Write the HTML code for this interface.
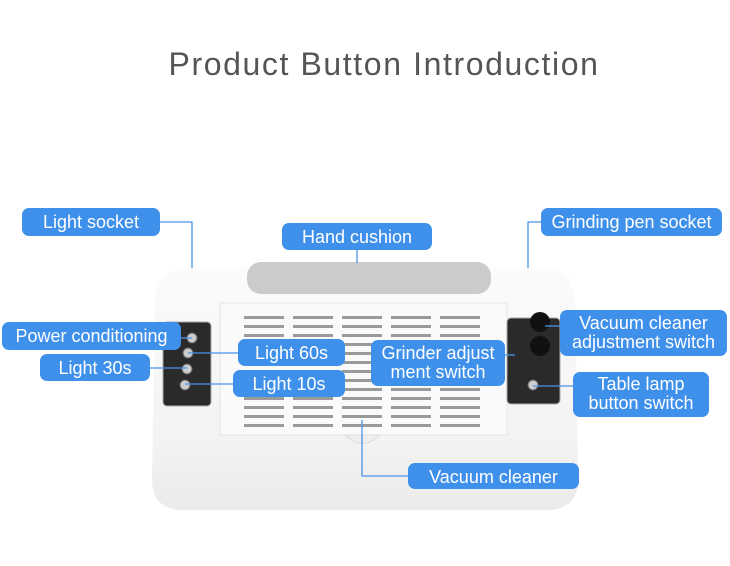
<!DOCTYPE html>
<html><head><style>
html,body{margin:0;padding:0;background:#fff;}
body{width:730px;height:566px;position:relative;overflow:hidden;font-family:"Liberation Sans",sans-serif;}
.t{position:absolute;left:0;width:768px;top:46px;text-align:center;font-size:32px;color:#555;letter-spacing:1.6px;}
.l{position:absolute;background:#3f90ea;color:#fff;border-radius:7px;font-size:18px;text-align:center;line-height:20px;padding-top:4px;box-sizing:border-box;white-space:nowrap;}
</style></head><body>
<div class="t">Product Button Introduction</div>
<svg width="730" height="566" style="position:absolute;left:0;top:0">
<defs>
<linearGradient id="b" x1="0" y1="0" x2="0" y2="1"><stop offset="0" stop-color="#fbfbfb"/><stop offset="0.7" stop-color="#f3f3f3"/><stop offset="1" stop-color="#ebebeb"/></linearGradient>
</defs>
<path d="M185 268 L545 268 Q572 270 575 300 L578 480 Q578 508 550 510 L180 510 Q152 508 152 480 L155 300 Q158 270 185 268Z" fill="url(#b)"/>
<rect x="247" y="262" width="244" height="32" rx="14" fill="#cbcbcb"/>
<rect x="220" y="303" width="287" height="132" fill="#fafafa" stroke="#e4e4e4"/>
<path d="M345 435 Q362 452 380 435Z" fill="#eee" stroke="#ddd"/>
<g fill="#9a9a9a">
<g id="r">
<rect x="244" y="316" width="40" height="3"/><rect x="293" y="316" width="40" height="3"/><rect x="342" y="316" width="40" height="3"/><rect x="391" y="316" width="40" height="3"/><rect x="440" y="316" width="40" height="3"/>
</g>
<use href="#r" y="9"/><use href="#r" y="18"/><use href="#r" y="27"/><use href="#r" y="36"/><use href="#r" y="45"/><use href="#r" y="54"/><use href="#r" y="63"/><use href="#r" y="72"/><use href="#r" y="81"/><use href="#r" y="90"/><use href="#r" y="99"/><use href="#r" y="108"/>
</g>
<rect x="163" y="322" width="48" height="84" rx="4" fill="#2a2a2a" stroke="#aaa"/>
<g fill="#ccc" stroke="#666"><circle cx="192" cy="338" r="5"/><circle cx="188" cy="353" r="5"/><circle cx="187" cy="369" r="5"/><circle cx="185" cy="385" r="5"/></g>
<rect x="507" y="318" width="53" height="86" rx="4" fill="#2a2a2a" stroke="#aaa"/>
<circle cx="540" cy="322" r="10" fill="#111"/><circle cx="540" cy="346" r="10" fill="#111"/>
<circle cx="533" cy="385" r="5" fill="#ccc" stroke="#666"/>
<g stroke="#4a94ea" stroke-width="1.3" fill="none">
<path d="M160 222 H192 V268"/><path d="M357 250 V263"/><path d="M541 222 H528 V268"/>
<path d="M181 338 H192"/><path d="M150 368 H187"/><path d="M238 353 H188"/><path d="M233 384 H185"/>
<path d="M505 355 H515"/><path d="M560 326 H545"/><path d="M573 386 H533"/>
<path d="M362 420 V476 H408"/>
</g>
</svg>
<div class="l" style="left:22px;top:208px;width:138px;height:28px">Light socket</div>
<div class="l" style="left:282px;top:223px;width:150px;height:27px">Hand cushion</div>
<div class="l" style="left:541px;top:208px;width:181px;height:28px">Grinding pen socket</div>
<div class="l" style="left:2px;top:322px;width:179px;height:28px">Power conditioning</div>
<div class="l" style="left:40px;top:354px;width:110px;height:27px">Light 30s</div>
<div class="l" style="left:238px;top:339px;width:107px;height:27px">Light 60s</div>
<div class="l" style="left:233px;top:370px;width:112px;height:27px">Light 10s</div>
<div class="l" style="left:371px;top:340px;width:134px;height:46px;line-height:19px;padding-top:4px">Grinder adjust<br>ment switch</div>
<div class="l" style="left:560px;top:310px;width:167px;height:46px;line-height:19px;padding-top:4px">Vacuum cleaner<br>adjustment switch</div>
<div class="l" style="left:573px;top:372px;width:136px;height:45px;line-height:19px;padding-top:3px">Table lamp<br>button switch</div>
<div class="l" style="left:408px;top:463px;width:171px;height:26px">Vacuum cleaner</div>
</body></html>
